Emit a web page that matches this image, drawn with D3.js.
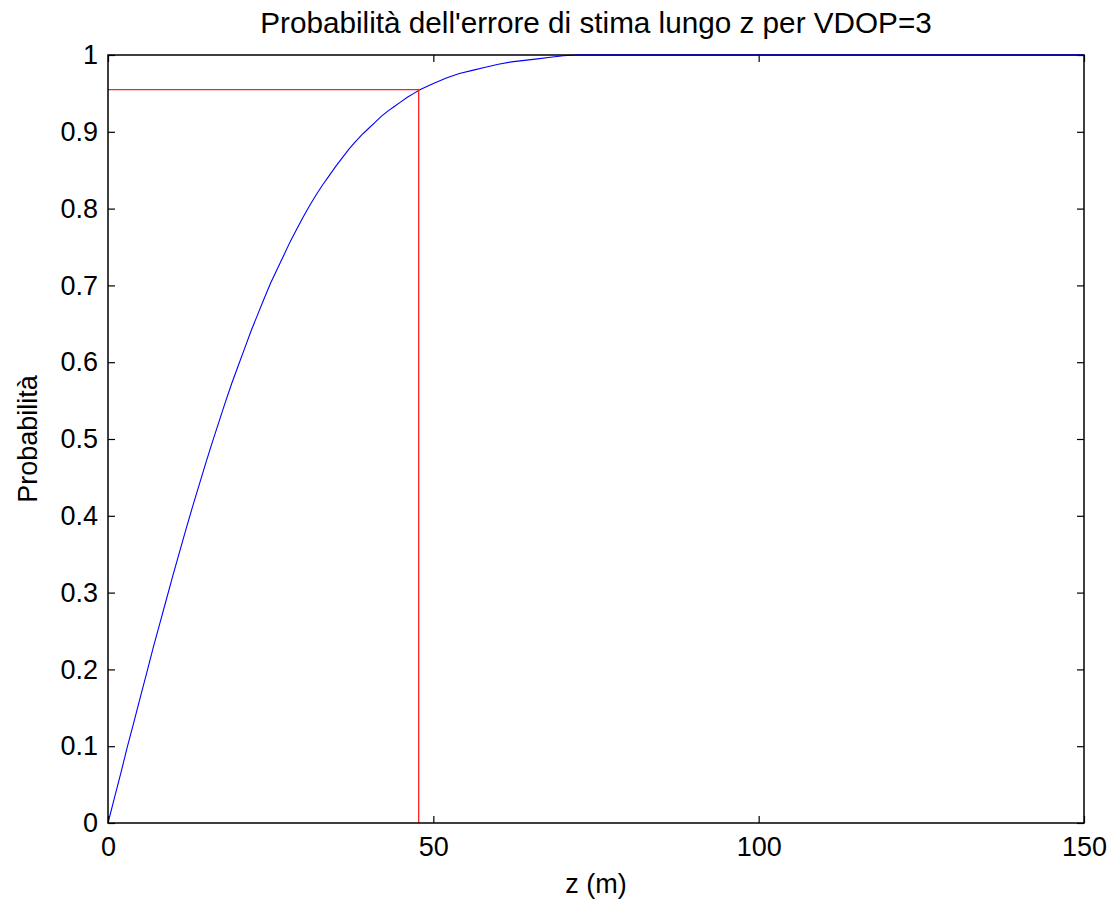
<!DOCTYPE html>
<html>
<head>
<meta charset="utf-8">
<script src="https://cdn.jsdelivr.net/npm/d3@7"></script>
<style>
  body { margin: 0; background: #fff; }
  text { font-family: "Liberation Sans", Arial, sans-serif; fill: #000; }
</style>
</head>
<body>
<script>
// values
var zValues = [0, 1, 2, 3, 4, 5, 6, 7, 8, 9, 10, 11, 12, 13, 14, 15, 16, 17, 18, 19,
  20, 21, 22, 23, 24, 25, 26, 27, 28, 29, 30, 31, 32, 33, 34, 35, 36, 37, 38, 39,
  40, 41, 42, 43, 44, 45, 46, 47, 48, 49, 50, 52, 54, 56, 58, 60, 62, 64, 66, 68,
  70, 72, 150];
var probValues = [0, 0.033, 0.066, 0.100, 0.132, 0.165, 0.197, 0.230, 0.261, 0.292,
  0.323, 0.353, 0.383, 0.412, 0.440, 0.468, 0.495, 0.521, 0.547, 0.572,
  0.595, 0.618, 0.641, 0.662, 0.683, 0.703, 0.721, 0.739, 0.757, 0.773,
  0.789, 0.804, 0.818, 0.831, 0.843, 0.855, 0.866, 0.877, 0.887, 0.896,
  0.904, 0.912, 0.920, 0.927, 0.933, 0.939, 0.945, 0.950, 0.955, 0.959, 0.963,
  0.970, 0.976, 0.980, 0.984, 0.988, 0.991, 0.993, 0.995, 0.997,
  0.999, 1, 1];
var markerZ = 47.75;
var markerP = 0.955;
var xTicks = [0, 50, 100, 150];
var yTicks = [0, 0.1, 0.2, 0.3, 0.4, 0.5, 0.6, 0.7, 0.8, 0.9, 1];

var width = 1108, height = 901;
var padL = 108, padR = 1084, padT = 55, padB = 823;
var fs = 27;

var svg = d3.select('body').append('svg')
  .attr('width', width)
  .attr('height', height);

var x = d3.scaleLinear().domain([0, 150]).range([padL, padR]);
var y = d3.scaleLinear().domain([0, 1]).range([padB, padT]);

var pts = zValues.map(function (z, i) { return [z, probValues[i]]; });

// curve
svg.append('path')
  .datum(pts)
  .attr('fill', 'none')
  .attr('stroke', '#0000ff')
  .attr('stroke-width', 1.1)
  .attr('d', d3.line()
    .x(function (d) { return x(d[0]); })
    .y(function (d) { return y(d[1]); }));

// red guide lines
svg.append('path')
  .attr('d', 'M' + x(0) + ',' + y(markerP) + 'H' + x(markerZ) + 'V' + y(0))
  .attr('fill', 'none')
  .attr('stroke', '#ff2020').attr('stroke-width', 1.3);

// axes box, ticks point inward
var tick = 7;
svg.append('g')
  .attr('transform', 'translate(0,' + padB + ')')
  .call(d3.axisBottom(x).tickValues(xTicks).tickSizeInner(-tick).tickSizeOuter(0).tickPadding(14))
  .call(function (g) { g.selectAll('text').attr('font-size', fs).attr('dy', '0.71em'); });
svg.append('g')
  .attr('transform', 'translate(0,' + padT + ')')
  .call(d3.axisTop(x).tickValues(xTicks).tickSizeInner(-tick).tickSizeOuter(0).tickFormat(''));
svg.append('g')
  .attr('transform', 'translate(' + padL + ',0)')
  .call(d3.axisLeft(y).tickValues(yTicks).tickSizeInner(-tick).tickSizeOuter(0).tickPadding(10)
    .tickFormat(function (d) { return d3.format('~g')(d); }))
  .call(function (g) { g.selectAll('text').attr('font-size', fs); });
svg.append('g')
  .attr('transform', 'translate(' + padR + ',0)')
  .call(d3.axisRight(y).tickValues(yTicks).tickSizeInner(-tick).tickSizeOuter(0).tickFormat(''));
svg.selectAll('.domain').remove();
svg.selectAll('.tick line').attr('stroke', '#000').attr('stroke-width', 1.2);

svg.append('rect')
  .attr('x', padL).attr('y', padT)
  .attr('width', padR - padL).attr('height', padB - padT)
  .attr('fill', 'none').attr('stroke', '#000').attr('stroke-width', 1.5);

// redraw the flat part of the curve over the top border
svg.append('line')
  .attr('x1', x(72)).attr('x2', x(150))
  .attr('y1', y(1)).attr('y2', y(1))
  .attr('stroke', '#0000ff').attr('stroke-width', 1.1);

// texts
svg.append('text')
  .attr('x', (padL + padR) / 2).attr('y', 33)
  .attr('text-anchor', 'middle').attr('font-size', fs * 1.1)
  .text("Probabilità dell'errore di stima lungo z per VDOP=3");
svg.append('text')
  .attr('x', (padL + padR) / 2).attr('y', 893)
  .attr('text-anchor', 'middle').attr('font-size', fs)
  .text('z (m)');
svg.append('text')
  .attr('transform', 'translate(37,' + ((padT + padB) / 2) + ') rotate(-90)')
  .attr('text-anchor', 'middle').attr('font-size', fs)
  .text('Probabilità');
</script>
</body>
</html>
